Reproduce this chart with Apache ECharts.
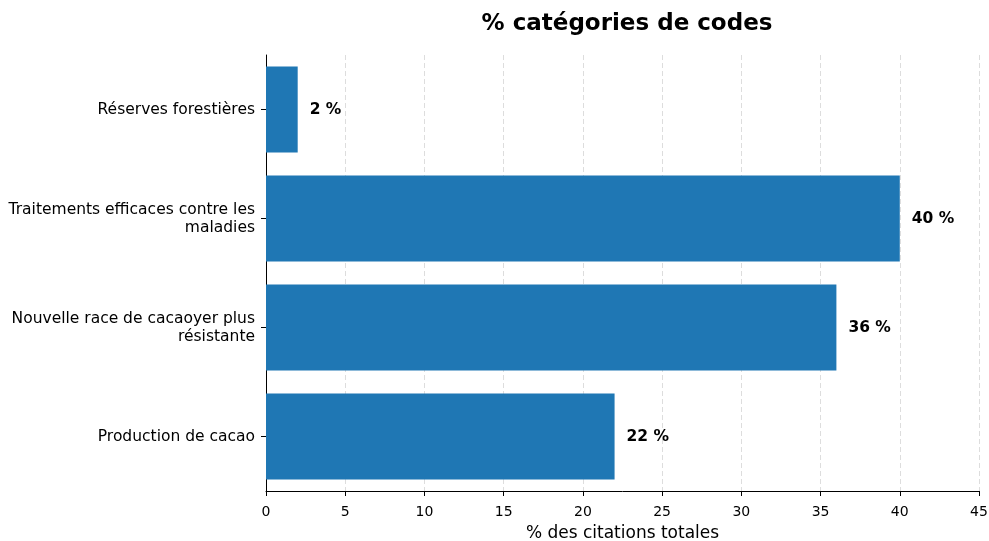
<!DOCTYPE html>
<html><head><meta charset="utf-8">
<script src="https://cdn.jsdelivr.net/npm/echarts@6/dist/echarts.min.js"></script>
<style>html,body{margin:0;padding:0;background:#fff}#c{width:989px;height:541px}</style>
</head><body><div id="c"></div>
<script>
const categories = ["Production de cacao", "Nouvelle race de cacaoyer plus\nrésistante", "Traitements efficaces contre les\nmaladies", "Réserves forestières"];
const values = [22, 36, 40, 2];
const xTicks = {min: 0, max: 45, interval: 5};
const titleText = "% catégories de codes";
const xLabel = "% des citations totales";

const chart = echarts.init(document.getElementById('c'));
chart.setOption({
  animation: false,
  title: {text: titleText, left: 622, top: 8, textAlign: 'center',
    textStyle: {fontFamily: 'DejaVu Sans', fontSize: 23, fontWeight: 'bold', color: '#000'}},
  grid: {left: 266, right: 10, top: 55, bottom: 50, outerBoundsMode: 'none', containLabel: false},
  xAxis: {type: 'value', min: xTicks.min, max: xTicks.max, interval: xTicks.interval,
    name: xLabel, nameLocation: 'middle', nameGap: 34,
    nameTextStyle: {fontFamily: 'DejaVu Sans', fontSize: 17, color: '#000'},
    axisLine: {show: true, lineStyle: {color: '#000', width: 1}},
    axisTick: {show: true, length: 5, lineStyle: {color: '#000'}},
    axisLabel: {fontFamily: 'DejaVu Sans', fontSize: 14, color: '#000', margin: 14},
    splitLine: {show: true, lineStyle: {type: [5, 3], color: '#dddddd', width: 1}}},
  yAxis: {type: 'category', data: categories,
    axisLine: {show: true, lineStyle: {color: '#000', width: 1}},
    axisTick: {show: true, alignWithLabel: true, length: 5, lineStyle: {color: '#000'}},
    axisLabel: {fontFamily: 'DejaVu Sans', fontSize: 15.5, color: '#000', margin: 11, lineHeight: 18, align: 'right'}},
  series: [{type: 'bar', data: values, barCategoryGap: '21%',
    itemStyle: {color: '#1f77b4'},
    label: {show: true, position: 'right', distance: 12, formatter: p => p.value + ' %',
      fontFamily: 'DejaVu Sans', fontSize: 15.5, fontWeight: 'bold', color: '#000'}}]
});
</script></body></html>
